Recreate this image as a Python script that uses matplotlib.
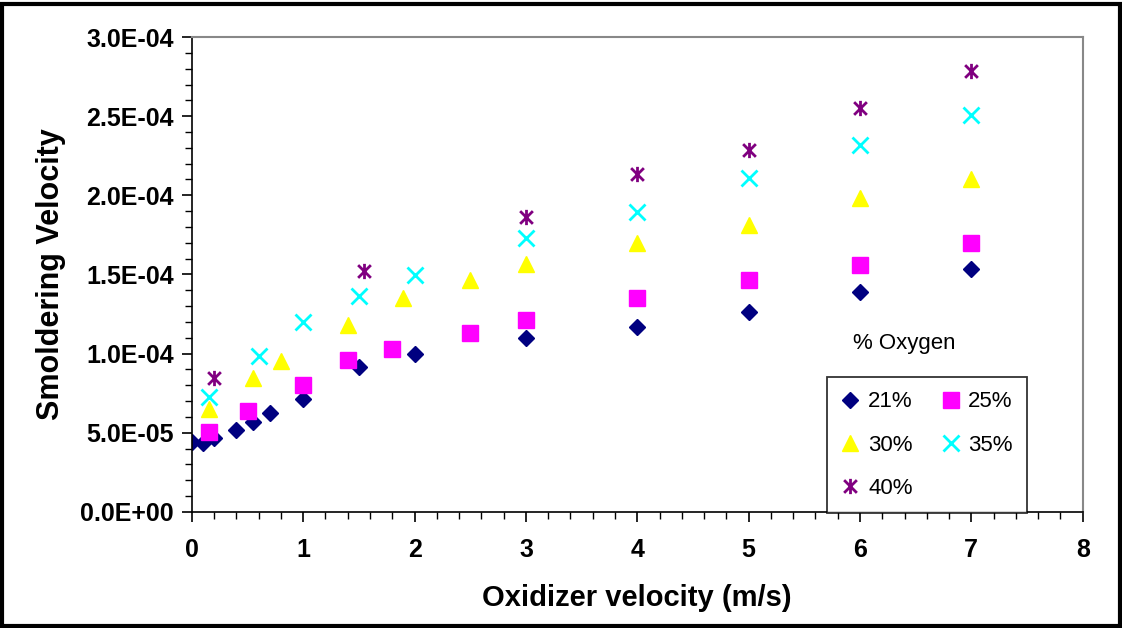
import matplotlib
matplotlib.use('Agg')
import matplotlib.pyplot as plt
from matplotlib.path import Path
from matplotlib.ticker import MultipleLocator, FormatStrFormatter, FuncFormatter
from matplotlib.patches import Rectangle

plt.rcParams['font.family'] = ['Liberation Sans', 'DejaVu Sans']

# data (smoldering velocity in 1e-4 m/s)
x21 = [0, 0.1, 0.2, 0.4, 0.55, 0.7, 1.0, 1.5, 2.0, 3.0, 4.0, 5.0, 6.0, 7.0]
y21 = [0.44, 0.435, 0.465, 0.52, 0.57, 0.625, 0.715, 0.915, 1.0, 1.10, 1.17, 1.265, 1.39, 1.535]

x25 = [0.15, 0.5, 1.0, 1.4, 1.8, 2.5, 3.0, 4.0, 5.0, 6.0, 7.0]
y25 = [0.505, 0.635, 0.80, 0.96, 1.03, 1.13, 1.215, 1.35, 1.465, 1.56, 1.70]

x30 = [0.15, 0.55, 0.8, 1.4, 1.9, 2.5, 3.0, 4.0, 5.0, 6.0, 7.0]
y30 = [0.65, 0.845, 0.955, 1.18, 1.35, 1.465, 1.565, 1.70, 1.81, 1.98, 2.10]

x35 = [0.15, 0.6, 1.0, 1.5, 2.0, 3.0, 4.0, 5.0, 6.0, 7.0]
y35 = [0.725, 0.985, 1.20, 1.365, 1.495, 1.73, 1.895, 2.11, 2.32, 2.505]

x40 = [0.2, 1.55, 3.0, 4.0, 5.0, 6.0, 7.0]
y40 = [0.845, 1.52, 1.86, 2.135, 2.285, 2.55, 2.785]

labels = ['21%', '25%', '30%', '35%', '40%']

# excel style star: an x with a vertical bar
star = Path([(-1, -1), (1, 1), (-1, 1), (1, -1), (0, -1.2), (0, 1.2)],
            [Path.MOVETO, Path.LINETO, Path.MOVETO, Path.LINETO, Path.MOVETO, Path.LINETO])

fig = plt.figure(figsize=(11.22, 6.28), dpi=100)
ax = fig.add_axes([0.171, 0.185, 0.794, 0.756])

s = 1e-4
h21, = ax.plot(x21, [v * s for v in y21], 'D', color='#000080', ms=8.5, ls='none')
h25, = ax.plot(x25, [v * s for v in y25], 's', color='#FF00FF', ms=11, ls='none')
h30, = ax.plot(x30, [v * s for v in y30], '^', color='#FFFF00', ms=12, ls='none')
h35, = ax.plot(x35, [v * s for v in y35], 'x', color='#00FFFF', ms=11, mew=2, ls='none')
h40, = ax.plot(x40, [v * s for v in y40], marker=star, color='#800080', ms=11, mew=2, ls='none')

ax.set_xlim(0, 8)
ax.set_ylim(0, 3e-4)
ax.xaxis.set_major_locator(MultipleLocator(1))
ax.xaxis.set_minor_locator(MultipleLocator(0.2))
ax.yaxis.set_major_locator(MultipleLocator(0.5e-4))
ax.yaxis.set_minor_locator(MultipleLocator(0.1e-4))
ax.yaxis.set_major_formatter(FuncFormatter(lambda v, p: '%.1E' % v))
ax.xaxis.set_major_formatter(FormatStrFormatter('%d'))

for sp in ['top', 'right']:
    ax.spines[sp].set_color('#888888')
    ax.spines[sp].set_linewidth(1.5)
for sp in ['left', 'bottom']:
    ax.spines[sp].set_color('black')
    ax.spines[sp].set_linewidth(1.2)

ax.tick_params(which='major', direction='out', length=7, width=1.2, labelsize=18, pad=12)
ax.tick_params(which='minor', direction='out', length=5, width=1.0)
ax.tick_params(axis='y', pad=6)
for t in ax.get_xticklabels() + ax.get_yticklabels():
    t.set_fontweight('bold')

ax.set_xlabel('Oxidizer velocity (m/s)', fontsize=21, fontweight='bold', labelpad=16)
ax.set_ylabel('Smoldering Velocity', fontsize=22, fontweight='bold', labelpad=10)

# legend: rows 21/25, 30/35, 40
leg = ax.legend([h21, h30, h40, h25, h35], [labels[0], labels[2], labels[4], labels[1], labels[3]],
                ncol=2, loc='upper left', bbox_to_anchor=(0.713, 0.284), borderaxespad=0,
                fontsize=16, frameon=True, fancybox=False, edgecolor='black',
                handlelength=0.8, handletextpad=0.4, columnspacing=1.3, labelspacing=1.0,
                borderpad=0.65)
leg.get_frame().set_linewidth(1.3)

fig.text(0.76, 0.445, '% Oxygen', fontsize=16)

fig.patches.append(Rectangle((0.002, 0.003), 0.996, 0.99, transform=fig.transFigure,
                             fill=False, edgecolor='black', linewidth=3))

fig.savefig('out.png', dpi=100)
